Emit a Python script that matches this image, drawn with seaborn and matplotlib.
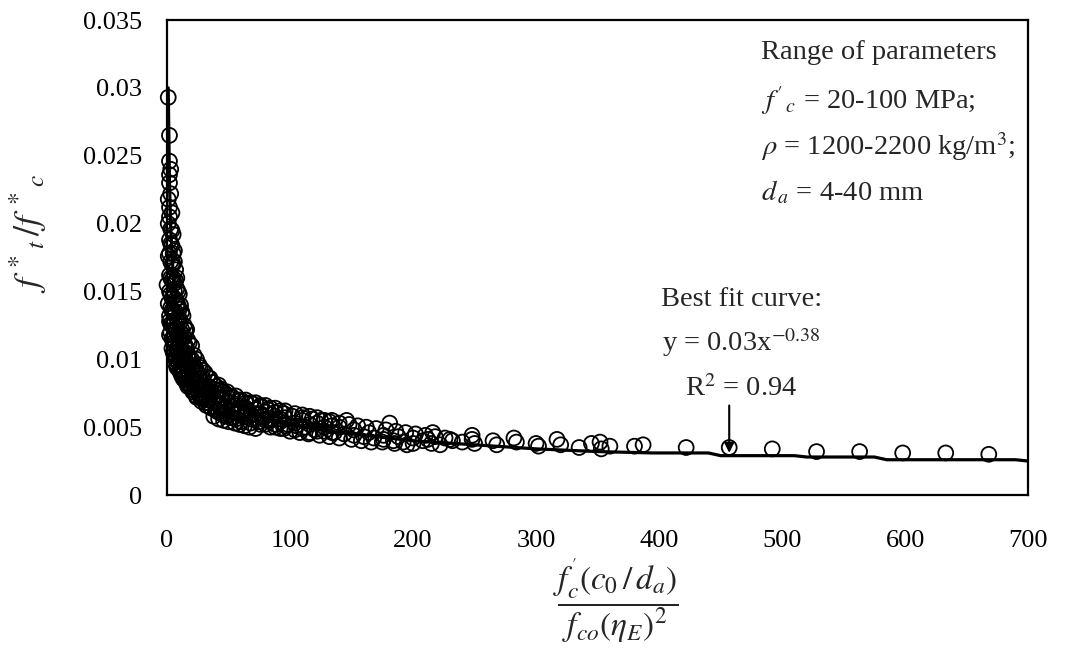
import matplotlib
matplotlib.use("Agg")
import matplotlib.pyplot as plt
import seaborn as sns
import pandas as pd

pts_x = [1, 2, 2, 3, 2, 2, 3, 1, 2, 4, 1, 3, 5, 2, 4, 6, 1, 3, 5, 7, 2, 4, 6, 0, 8, 3, 5, 7, 1, 9,
         10, 4, 6, 2, 8, 11, 3, 5, 12, 7, 9, 2, 14, 4, 6, 10, 15, 8, 12, 5, 17, 7, 10, 19, 13, 8, 16, 21, 11, 14,
         24, 18, 12, 22, 27, 16, 20, 30, 25, 18, 34, 23, 28, 38, 21, 32, 43, 26, 36, 48, 24, 30, 40, 53, 34, 45, 58, 28, 38, 50,
         64, 32, 43, 55, 70, 36, 48, 60, 76, 40, 52, 66, 82, 44, 57, 72, 88, 38, 48, 62, 78, 95, 42, 54, 68, 85, 102, 46, 50, 55,
         59, 63, 67, 72, 75, 92, 110, 80, 98, 118, 88, 105, 125, 95, 112, 132, 100, 120, 140, 108, 128, 148, 115, 136, 155, 124, 144, 162, 132, 152,
         170, 140, 160, 178, 150, 168, 186, 158, 176, 194, 166, 184, 202, 175, 192, 210, 185, 200, 218, 195, 208, 226, 215, 232, 240, 222, 146, 181, 216, 230,
         248, 248, 250, 265, 268, 282, 284, 300, 302, 317, 320, 335, 345, 352, 353, 360, 380, 387, 422, 457, 492, 528, 563, 598, 633, 668]
pts_y = [0.0293, 0.0265, 0.0246, 0.0240, 0.0236, 0.0230, 0.0222, 0.0218, 0.0212, 0.0208, 0.0200, 0.0196, 0.0192, 0.0188, 0.0184, 0.0180, 0.0176, 0.0172, 0.0170, 0.0166, 0.0162, 0.0158, 0.0156, 0.0155, 0.0152, 0.0148, 0.0146, 0.0144, 0.0141, 0.0140,
         0.0137, 0.0136, 0.0134, 0.0132, 0.0130, 0.0128, 0.0126, 0.0125, 0.0122, 0.0121, 0.0119, 0.0118, 0.0116, 0.0115, 0.0113, 0.0112, 0.0110, 0.0108, 0.0106, 0.0105, 0.0104, 0.0102, 0.0100, 0.0099, 0.0098, 0.0096, 0.0095, 0.0094, 0.0093, 0.0091,
         0.0090, 0.0089, 0.0088, 0.0087, 0.0086, 0.0085, 0.0084, 0.0083, 0.0082, 0.0081, 0.0080, 0.0079, 0.0078, 0.0078, 0.0076, 0.0076, 0.0077, 0.0075, 0.0074, 0.0074, 0.0073, 0.0072, 0.0072, 0.0072, 0.0070, 0.0070, 0.0070, 0.0069, 0.0068, 0.0068,
         0.0068, 0.0066, 0.0066, 0.0066, 0.0067, 0.0064, 0.0064, 0.0064, 0.0065, 0.0062, 0.0062, 0.0062, 0.0063, 0.0060, 0.0060, 0.0060, 0.0061, 0.0058, 0.0058, 0.0058, 0.0058, 0.0060, 0.0056, 0.0057, 0.0056, 0.0056, 0.0058, 0.0055, 0.0054, 0.0053,
         0.0052, 0.0051, 0.0050, 0.0049, 0.0054, 0.0054, 0.0057, 0.0052, 0.0052, 0.0056, 0.0050, 0.0051, 0.0055, 0.0049, 0.0050, 0.0054, 0.0047, 0.0048, 0.0053, 0.0046, 0.0047, 0.0052, 0.0045, 0.0046, 0.0051, 0.0044, 0.0045, 0.0050, 0.0043, 0.0044,
         0.0049, 0.0042, 0.0043, 0.0048, 0.0041, 0.0042, 0.0047, 0.0040, 0.0041, 0.0046, 0.0039, 0.0040, 0.0045, 0.0039, 0.0039, 0.0044, 0.0038, 0.0038, 0.0043, 0.0037, 0.0040, 0.0042, 0.0038, 0.0040, 0.0039, 0.0037, 0.0055, 0.0053, 0.0046, 0.0041,
         0.0044, 0.0041, 0.0038, 0.0040, 0.0037, 0.0042, 0.0039, 0.0038, 0.0036, 0.0041, 0.0037, 0.0035, 0.0038, 0.0039, 0.0034, 0.0036, 0.0036, 0.0037, 0.0035, 0.0035, 0.0034, 0.0032, 0.0032, 0.0031, 0.0031, 0.0030]

# more points inside the dense band
band_x = [3, 3, 3, 3, 5, 5, 5, 5, 7, 7, 7, 7, 9, 9, 9, 9, 12, 12, 12, 12, 15, 15, 15, 15, 18, 18, 18, 18,
          22, 22, 22, 22, 27, 27, 27, 33, 33, 33, 40, 40, 40, 46, 46, 46, 52, 52, 52, 60, 60, 60, 68, 68, 68,
          76, 76, 76, 84, 84, 84, 92, 92, 92, 104, 104, 104, 116, 116, 116, 128, 128,
          140, 152, 164, 176, 188, 200, 212]
band_y = [0.0185, 0.0160, 0.0138, 0.0120, 0.0178, 0.0160, 0.0135, 0.0115, 0.0158, 0.0135, 0.0112, 0.0100,
          0.0150, 0.0128, 0.0108, 0.0098, 0.0135, 0.0115, 0.0100, 0.0092, 0.0122, 0.0105, 0.0096, 0.0087,
          0.0112, 0.0100, 0.0090, 0.0082, 0.0103, 0.0095, 0.0082, 0.0077, 0.0094, 0.0080, 0.0072,
          0.0087, 0.0078, 0.0068, 0.0080, 0.0068, 0.0063, 0.0076, 0.0064, 0.0059, 0.0073, 0.0065, 0.0057,
          0.0070, 0.0061, 0.0054, 0.0068, 0.0059, 0.0053, 0.0066, 0.0060, 0.0052, 0.0064, 0.0055, 0.0050,
          0.0062, 0.0056, 0.0049, 0.0060, 0.0053, 0.0048, 0.0058, 0.0052, 0.0046, 0.0055, 0.0050,
          0.0050, 0.0048, 0.0046, 0.0044, 0.0043, 0.0042, 0.0041]

core_x = [2, 2, 2, 2, 4, 4, 4, 4, 4, 6, 6, 6, 6, 6, 8, 8, 8, 8, 8, 10, 10, 10, 10, 10, 11, 11, 11, 11,
          13, 13, 13, 13, 13, 14, 14, 14, 14, 16, 16, 16, 16, 16, 17, 17, 17, 17, 20, 20, 20, 20, 20,
          24, 24, 24, 24, 24, 26, 26, 26, 29, 29, 29, 29, 31, 31, 31, 31, 35, 35, 35, 35, 37, 37, 37,
          42, 42, 42, 42, 44, 44, 44, 49, 49, 49, 56, 56, 56, 56, 64, 64, 64, 72, 72, 72, 80, 80, 80,
          88, 88, 88, 96, 96, 96, 110, 110, 110, 122, 122, 122, 134, 134, 134]
core_y = [0.0205, 0.0178, 0.0150, 0.0128, 0.0195, 0.0170, 0.0145, 0.0125, 0.0108, 0.0172, 0.0150, 0.0128, 0.0110, 0.0098,
          0.0160, 0.0140, 0.0122, 0.0105, 0.0094, 0.0148, 0.0130, 0.0115, 0.0102, 0.0092, 0.0140, 0.0120, 0.0104, 0.0090,
          0.0132, 0.0118, 0.0104, 0.0093, 0.0086, 0.0125, 0.0110, 0.0097, 0.0085, 0.0122, 0.0108, 0.0098, 0.0088, 0.0082,
          0.0114, 0.0102, 0.0092, 0.0080, 0.0110, 0.0100, 0.0092, 0.0085, 0.0078,
          0.0100, 0.0092, 0.0084, 0.0078, 0.0072, 0.0096, 0.0088, 0.0079, 0.0092, 0.0086, 0.0078, 0.0071,
          0.0090, 0.0081, 0.0074, 0.0068, 0.0086, 0.0079, 0.0072, 0.0065, 0.0083, 0.0075, 0.0069,
          0.0081, 0.0074, 0.0066, 0.0061, 0.0078, 0.0071, 0.0064, 0.0076, 0.0069, 0.0062, 0.0073, 0.0067, 0.0061, 0.0056,
          0.0070, 0.0064, 0.0058, 0.0068, 0.0063, 0.0056, 0.0066, 0.0061, 0.0055,
          0.0064, 0.0058, 0.0052, 0.0062, 0.0057, 0.0051, 0.0059, 0.0055, 0.0049, 0.0057, 0.0053, 0.0047, 0.0055, 0.0051, 0.0046]

# best fit curve (y = 0.03x^-0.38), as drawn
fit_x = [1, 2, 3, 5, 7, 10, 15, 20, 30, 40, 50, 70, 100, 130, 160, 200, 250, 300, 350, 395, 440, 450, 510, 520, 575, 585, 690, 700]
fit_y = [0.0300, 0.0231, 0.0197, 0.0163, 0.0143, 0.0125, 0.0107, 0.0096, 0.0082, 0.0074, 0.0068, 0.0060, 0.0052, 0.0047, 0.0044, 0.0040, 0.0037, 0.0034, 0.0032, 0.0031,
         0.0031, 0.0029, 0.0029, 0.0028, 0.0028, 0.0026, 0.0026, 0.0025]

x_ticks = [0, 100, 200, 300, 400, 500, 600, 700]
y_ticks = [0, 0.005, 0.01, 0.015, 0.02, 0.025, 0.03, 0.035]
y_tick_labels = ["0", "0.005", "0.01", "0.015", "0.02", "0.025", "0.03", "0.035"]

sns.set_theme(style="white")
plt.rcParams['font.family'] = ['Liberation Serif', 'DejaVu Serif']
plt.rcParams['mathtext.fontset'] = 'stix'

fig = plt.figure(figsize=(10.88, 6.56), dpi=100)
ax = fig.add_axes([0.1535, 0.2454, 0.7915, 0.7241])

df_pts = pd.DataFrame({'x': pts_x + band_x + core_x, 'y': pts_y + band_y + core_y})
df_fit = pd.DataFrame({'x': fit_x, 'y': fit_y})

sns.lineplot(data=df_fit, x='x', y='y', ax=ax, color='black', linewidth=2.3,
             sort=False, estimator=None, zorder=2)
sns.scatterplot(data=df_pts, x='x', y='y', ax=ax, marker='o', s=115,
                facecolor='none', edgecolor='black', linewidth=1.3, zorder=3,
                clip_on=False)

ax.set_xlim(0, 700)
ax.set_ylim(0, 0.035)
ax.set_xticks(x_ticks)
ax.set_xticklabels([str(v) for v in x_ticks])
ax.set_yticks(y_ticks)
ax.set_yticklabels(y_tick_labels)
ax.tick_params(direction='in', length=7, width=1.3, labelsize=19, colors='black')
ax.tick_params(axis='y', pad=18)
ax.tick_params(axis='x', pad=25)
for sp in ax.spines.values():
    sp.set_color('black')
    sp.set_linewidth(1.6)

ax.set_ylabel(r"$f^{\,*}{}_{t}\,/f^{\,*}{}_{c}$", fontsize=26, va='center', ha='center')
ax.yaxis.set_label_coords(-0.161, 0.55)
ax.set_xlabel(r"$\dfrac{f_c^{'}\left(c_0\,/\,d_a\right)}{f_{co}\left(\eta_E\right)^2}$",
              fontsize=24, va='center', ha='center')
ax.xaxis.set_label_coords(0.521, -0.222)

# parameter box text
ax.text(483, 0.0326, "Range of parameters", fontsize=20.5, va='center', ha='left')
ax.text(483, 0.0291, r"$f'_{\,c}$ = 20-100 MPa;", fontsize=20.5, va='center', ha='left')
ax.text(483, 0.02564, r"$\rho$ = 1200-2200 kg/m$^3$;", fontsize=20.5, va='center', ha='left')
ax.text(483, 0.02225, r"$d_{\,a}$ = 4-40 mm", fontsize=20.5, va='center', ha='left')

# best fit annotation
ax.text(467, 0.01437, "Best fit curve:", fontsize=20.5, va='center', ha='center')
ax.text(467, 0.0112, r"y = 0.03x$^{-0.38}$", fontsize=20.5, va='center', ha='center')
ax.text(467, 0.00788, r"R$^2$ = 0.94", fontsize=20.5, va='center', ha='center')
ax.annotate("", xy=(457, 0.0029), xytext=(457, 0.0068),
            arrowprops=dict(arrowstyle='-|>', color='black', lw=1.5, mutation_scale=14))

fig.savefig("out.png", dpi=100)
